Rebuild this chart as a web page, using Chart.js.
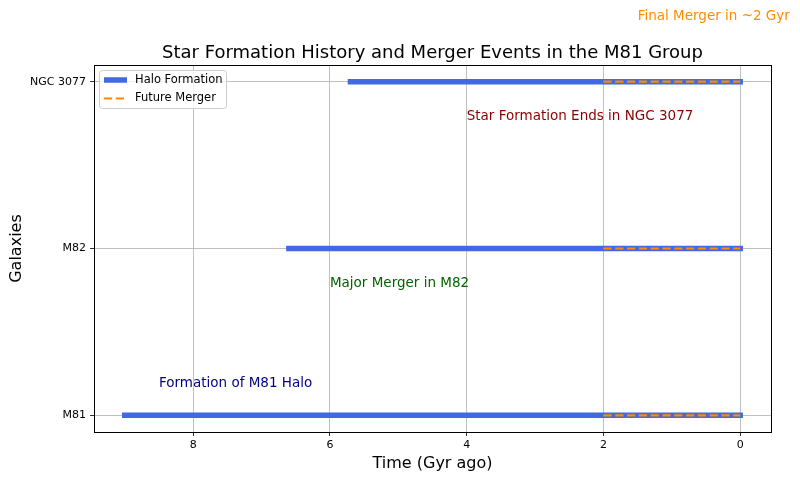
<!DOCTYPE html>
<html><head><meta charset="utf-8">
<script src="https://cdn.jsdelivr.net/npm/chart.js@4"></script>
<style>html,body{margin:0;padding:0;background:#fff}#wrap{width:800px;height:480px}</style>
</head><body><div id="wrap"><canvas id="c" width="800" height="480"></canvas></div>
<script>
const galaxies = ["M81", "M82", "NGC 3077"];
const haloStart = [9.0, 6.6, 5.7];
const haloEnd = [0, 0, 0];
const mergerStart = [2, 2, 2];
const mergerEnd = [0, 0, 0];
const xTicks = [8, 6, 4, 2, 0];
const annotations = [
  {text: "Final Merger in ~2 Gyr", x: 1.5, y: 2.35, color: "#ff8c00"},
  {text: "Star Formation Ends in NGC 3077", x: 4, y: 1.75, color: "#8b0000"},
  {text: "Major Merger in M82", x: 6, y: 0.75, color: "#006400"},
  {text: "Formation of M81 Halo", x: 8.5, y: 0.15, color: "#00008b"}
];
const FONT = "'DejaVu Sans', sans-serif";

const datasets = [];
galaxies.forEach((g, i) => {
  datasets.push({
    label: i === 0 ? "Halo Formation" : "_h" + i,
    data: [{x: haloStart[i], y: i}, {x: haloEnd[i], y: i}],
    showLine: true, borderColor: "#4169e1", borderWidth: 5.5, pointRadius: 0,
    borderCapStyle: "square", order: 2
  });
});
galaxies.forEach((g, i) => {
  datasets.push({
    label: i === 0 ? "Future Merger" : "_m" + i,
    data: [{x: mergerStart[i], y: i}, {x: mergerEnd[i], y: i}],
    showLine: true, borderColor: "#ff8c00", borderWidth: 2.2, pointRadius: 0,
    borderDash: [8.2, 3.6], borderCapStyle: "butt", order: 1
  });
});

const extras = {
  id: "extras",
  afterDatasetsDraw(chart) {
    const ctx = chart.ctx, a = chart.chartArea;
    const xs = chart.scales.x, ys = chart.scales.y;
    ctx.save();
    // frame
    ctx.strokeStyle = "#000"; ctx.lineWidth = 1;
    ctx.strokeRect(Math.round(a.left) + 0.5, Math.round(a.top) + 0.5, Math.round(a.right - a.left), Math.round(a.bottom - a.top));
    // annotations
    ctx.textAlign = "left"; ctx.textBaseline = "alphabetic";
    ctx.font = "13.5px " + FONT;
    annotations.forEach(an => {
      ctx.fillStyle = an.color;
      ctx.fillText(an.text, xs.getPixelForValue(an.x), ys.getPixelForValue(an.y) - 3);
    });
    // title
    ctx.fillStyle = "#000"; ctx.textAlign = "center";
    ctx.font = "18px " + FONT;
    ctx.fillText("Star Formation History and Merger Events in the M81 Group", (a.left + a.right) / 2, a.top - 7);
    // axis titles
    ctx.font = "16px " + FONT;
    ctx.fillText("Time (Gyr ago)", (a.left + a.right) / 2, 468);
    ctx.save();
    ctx.translate(21, (a.top + a.bottom) / 2);
    ctx.rotate(-Math.PI / 2);
    ctx.fillText("Galaxies", 0, 0);
    ctx.restore();
    // legend
    const lx = a.left + 5, ly = a.top + 5, lw = 127, lh = 38;
    ctx.beginPath();
    ctx.roundRect(lx + 0.5, ly + 0.5, lw, lh, 3);
    ctx.fillStyle = "rgba(255,255,255,0.8)"; ctx.fill();
    ctx.strokeStyle = "#cccccc"; ctx.lineWidth = 1; ctx.stroke();
    const items = [
      {t: "Halo Formation", c: "#4169e1", w: 5.5, d: []},
      {t: "Future Merger", c: "#ff8c00", w: 2.2, d: [8.2, 3.6]}
    ];
    ctx.font = "11.5px " + FONT; ctx.textAlign = "left"; ctx.textBaseline = "middle";
    items.forEach((it, k) => {
      const yy = ly + 10 + k * 18.5;
      ctx.beginPath(); ctx.setLineDash(it.d); ctx.lineCap = "butt";
      ctx.strokeStyle = it.c; ctx.lineWidth = it.w;
      ctx.moveTo(lx + 5, yy); ctx.lineTo(lx + 28, yy); ctx.stroke();
      ctx.setLineDash([]);
      ctx.fillStyle = "#000"; ctx.fillText(it.t, lx + 36, yy);
    });
    ctx.restore();
  }
};

new Chart(document.getElementById("c"), {
  type: "scatter",
  data: {datasets},
  plugins: [extras],
  options: {
    responsive: false, animation: false, devicePixelRatio: 1,
    layout: {padding: {top: 65, right: 29, left: 0, bottom: 0}},
    plugins: {legend: {display: false}, title: {display: false}, tooltip: {enabled: false}},
    scales: {
      x: {
        type: "linear", reverse: true, min: -0.45, max: 9.45,
        afterBuildTicks: s => { s.ticks = xTicks.map(v => ({value: v})); },
        afterFit: s => { s.height = 48; },
        grid: {color: "#b0b0b0", lineWidth: 0.8, tickColor: "#000", tickLength: 4, drawTicks: true},
        border: {display: true, color: "#000", width: 1},
        ticks: {color: "#000", font: {family: FONT, size: 11}, padding: 3, maxRotation: 0,
          callback: v => String(v)}
      },
      y: {
        type: "linear", min: -0.1, max: 2.1,
        afterBuildTicks: s => { s.ticks = galaxies.map((g, i) => ({value: i})); },
        afterFit: s => { s.width = 94; },
        grid: {color: "#b0b0b0", lineWidth: 0.8, tickColor: "#000", tickLength: 4, drawTicks: true},
        border: {display: true, color: "#000", width: 1},
        ticks: {color: "#000", font: {family: FONT, size: 11}, padding: 4,
          callback: v => galaxies[v] !== undefined ? galaxies[v] : ""}
      }
    }
  }
});
</script></body></html>
